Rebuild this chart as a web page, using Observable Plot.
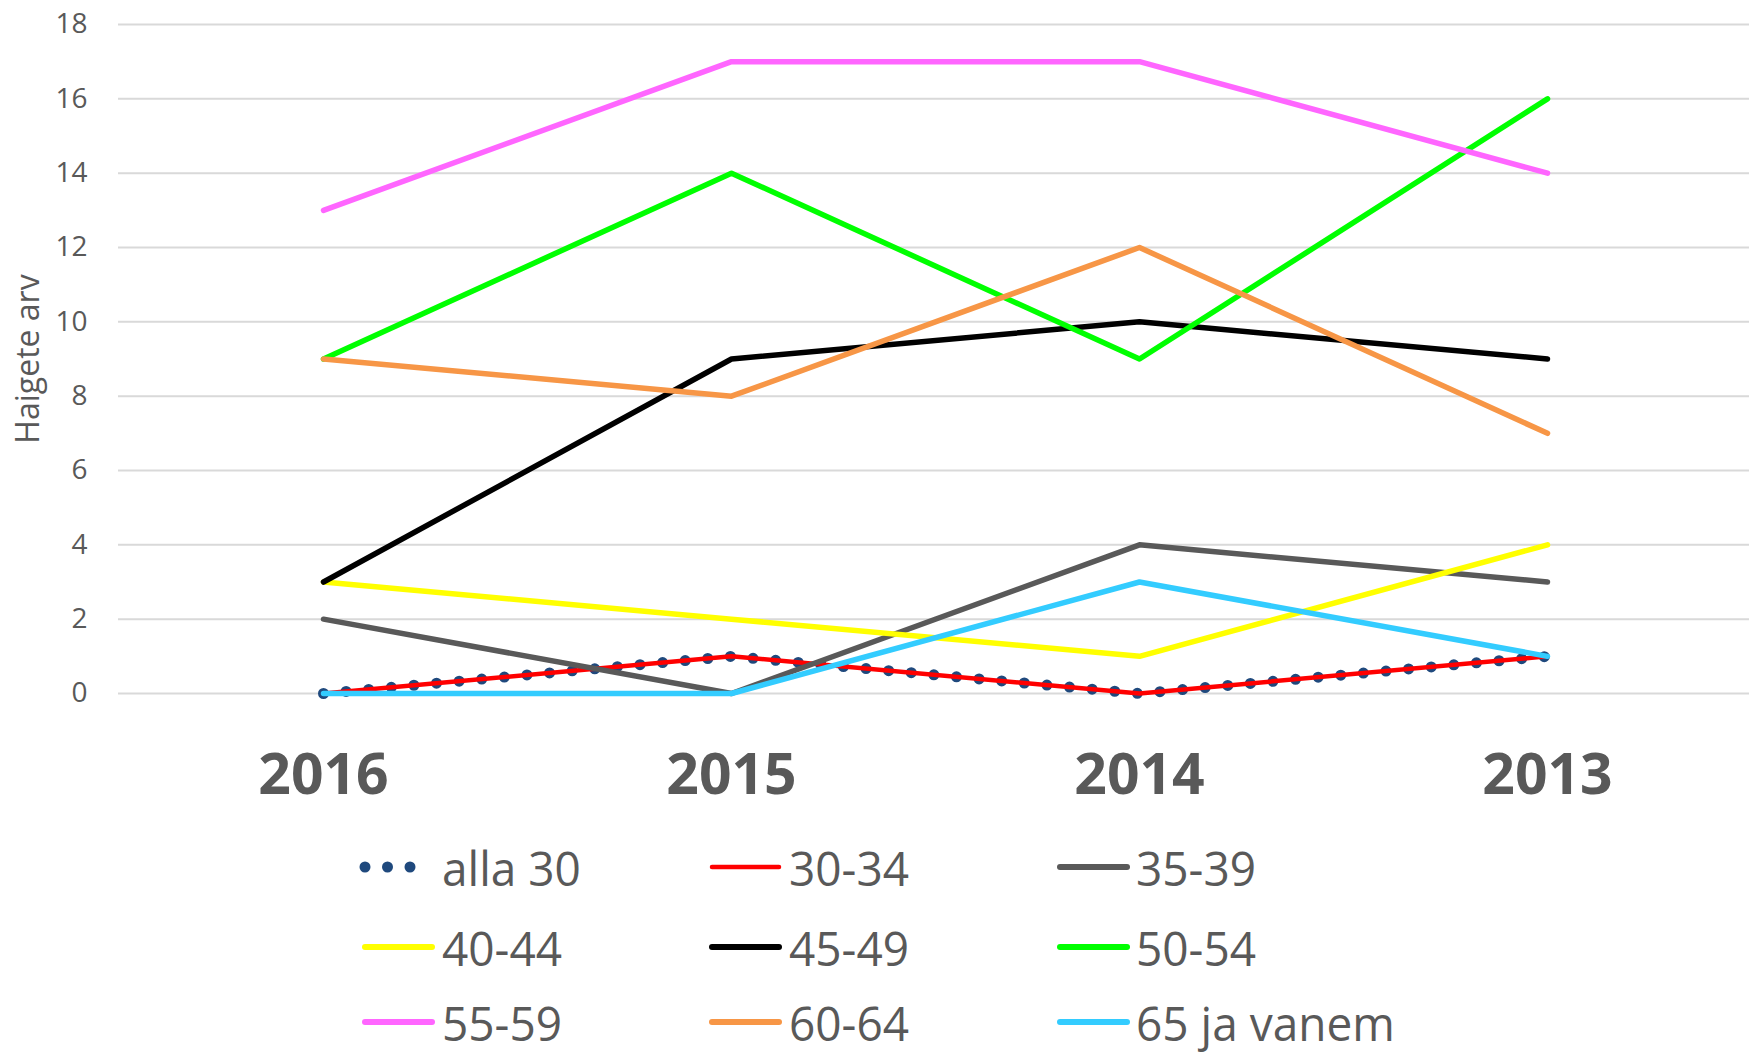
<!DOCTYPE html>
<html><head><meta charset="utf-8">
<script src="https://cdn.jsdelivr.net/npm/d3@7"></script>
<script src="https://cdn.jsdelivr.net/npm/@observablehq/plot@0.6"></script>
<style>
body{margin:0;background:#fff;font-family:"Open Sans",sans-serif;overflow:hidden;}
#wrap{width:1749px;}
#legend{position:relative;width:1749px;height:229px;}
.sym{position:absolute;}
.lab{position:absolute;height:48px;line-height:48px;color:#595959;font-size:46px;white-space:nowrap;transform:scaleY(1.05);transform-origin:left center;}
</style></head><body><div id="wrap"></div><div id="legend"></div>
<script>
const years = ["2016", "2015", "2014", "2013"];
const seriesNames = ["alla 30", "30-34", "35-39", "40-44", "45-49", "50-54", "55-59", "60-64", "65 ja vanem"];
const alla30 = [0, 1, 0, 1];
const s3034 = [0, 1, 0, 1];
const s3539 = [2, 0, 4, 3];
const s4044 = [3, 2, 1, 4];
const s4549 = [3, 9, 10, 9];
const s5054 = [9, 14, 9, 16];
const s5559 = [13, 17, 17, 14];
const s6064 = [9, 8, 12, 7];
const s65 = [0, 0, 3, 1];
const yTicks = [0, 2, 4, 6, 8, 10, 12, 14, 16, 18];
const colors = ["#1f497d", "#ff0000", "#595959", "#ffff00", "#000000", "#00ff00", "#ff66ff", "#f79646", "#33ccff"];
const yTitle = "Haigete arv";

const allValues = [alla30, s3034, s3539, s4044, s4549, s5054, s5559, s6064, s65];
const data = [];
seriesNames.forEach((s, i) => allValues[i].forEach((v, j) => data.push({series: s, year: years[j], value: v})));

const lineMarks = seriesNames.map((s, i) => {
  const d = data.filter(r => r.series === s);
  if (i === 0) {
    return Plot.line(d, {x: "year", y: "value", stroke: colors[i], strokeWidth: 11, strokeDasharray: "0,22.7", strokeLinecap: "round"});
  }
  return Plot.line(d, {x: "year", y: "value", stroke: colors[i], strokeWidth: i === 1 ? 4.5 : 5.5, strokeLinecap: "round", strokeLinejoin: "round"});
});

const chart = Plot.plot({
  width: 1749, height: 825,
  marginLeft: 118, marginRight: 0, marginTop: 24, marginBottom: 132,
  style: {fontFamily: "'Open Sans', sans-serif", color: "#595959", background: "white", overflow: "visible"},
  x: {type: "point", domain: years, range: [322, 1548], padding: 0},
  y: {domain: [0, 18]},
  marks: [
    Plot.gridY(yTicks, {stroke: "#d9d9d9", strokeOpacity: 1, strokeWidth: 2}),
    Plot.axisY(yTicks, {tickSize: 0, tickPadding: 31, fontSize: 28, label: null}),
    Plot.axisX({tickSize: 0, tickPadding: 60, fontSize: 57, fontWeight: "bold", label: null}),
    ...lineMarks,
    Plot.text([yTitle], {text: d => d, frameAnchor: "left", rotate: -90, dx: -80, textAnchor: "middle", lineAnchor: "bottom", fontSize: 32, fill: "#595959"})
  ]
});
document.getElementById("wrap").appendChild(chart);

// legend
const legend = document.getElementById("legend");
const symStarts = [365, 712, 1060];
const textStarts = [442, 789, 1136];
const rowCenters = [42, 122, 197];
seriesNames.forEach((s, i) => {
  const col = i % 3, row = Math.floor(i / 3);
  const cy = rowCenters[row];
  const ns = "http://www.w3.org/2000/svg";
  const svg = document.createElementNS(ns, "svg");
  svg.setAttribute("width", 80); svg.setAttribute("height", 20);
  svg.setAttribute("class", "sym");
  svg.style.left = (symStarts[col] - 6) + "px";
  svg.style.top = (cy - 10) + "px";
  if (i === 0) {
    [0, 22.5, 45].forEach(dx => {
      const c = document.createElementNS(ns, "circle");
      c.setAttribute("cx", 6 + dx); c.setAttribute("cy", 10); c.setAttribute("r", 5.5);
      c.setAttribute("fill", colors[i]);
      svg.appendChild(c);
    });
  } else {
    const l = document.createElementNS(ns, "line");
    l.setAttribute("x1", 6); l.setAttribute("x2", 6 + 67);
    l.setAttribute("y1", 10); l.setAttribute("y2", 10);
    l.setAttribute("stroke", colors[i]);
    l.setAttribute("stroke-width", i === 1 ? 4.5 : 6);
    l.setAttribute("stroke-linecap", "round");
    svg.appendChild(l);
  }
  legend.appendChild(svg);
  const t = document.createElement("div");
  t.className = "lab";
  t.textContent = s;
  t.style.left = textStarts[col] + "px";
  t.style.top = (cy - 24) + "px";
  legend.appendChild(t);
});
</script>
</body></html>
